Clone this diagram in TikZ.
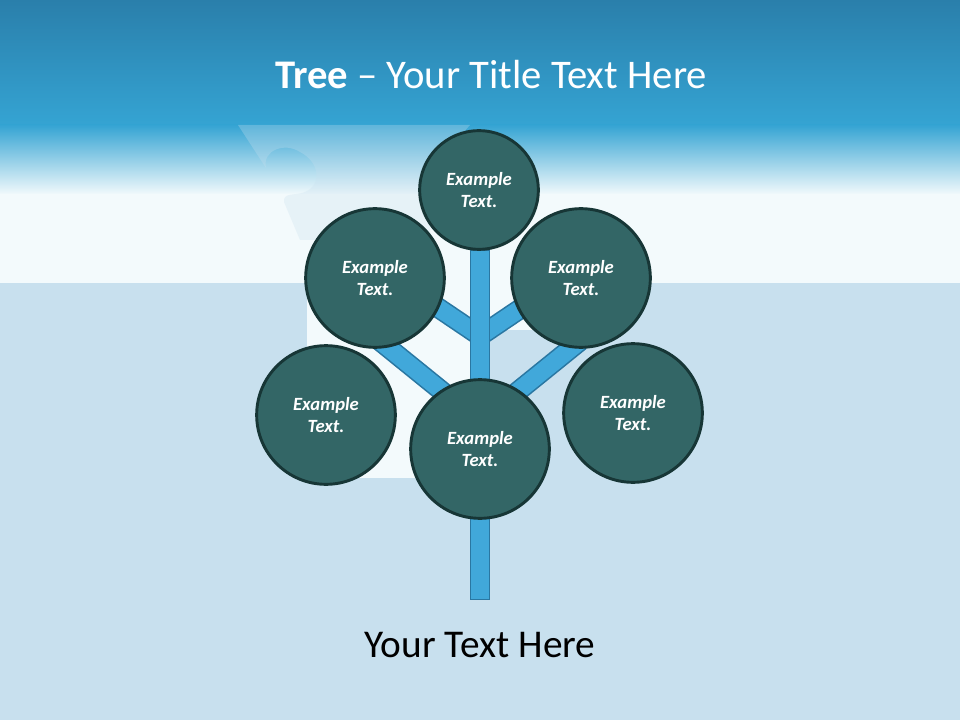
\documentclass[tikz,border=0pt]{standalone}
\usepackage{fontspec}
\setmainfont{Carlito}
\usetikzlibrary{positioning}

\definecolor{bandtop}{HTML}{2A7FAB}
\definecolor{bandlow}{HTML}{35A4D3}
\definecolor{paper}{HTML}{F3FAFC}
\definecolor{puzzle}{HTML}{C8E0EE}
\definecolor{leaffill}{HTML}{336666}
\definecolor{leafedge}{HTML}{173636}
\definecolor{trunkfill}{HTML}{41A8DA}
\definecolor{trunkedge}{HTML}{2A77A2}

\tikzset{
  leaf/.style={circle, draw=leafedge, line width=2.2pt, fill=leaffill,
    minimum size=104pt, inner sep=0pt, text=white, align=center,
    font=\fontsize{14}{17}\selectfont\bfseries\itshape},
  topleaf/.style={leaf, minimum size=89pt},
  branch/.style={draw=trunkedge, line width=1.2pt, double=trunkfill,
    double distance=13pt}
}

\begin{document}
\begin{tikzpicture}[x=0.75pt, y=-0.75pt]
    \useasboundingbox (0,0) rectangle (960,720);

    % background
    \shade[top color=bandtop, bottom color=bandlow] (0,0) rectangle (960,126);
    \shade[top color=bandlow, bottom color=paper] (0,125) rectangle (960,195);
    \fill[paper] (0,194) rectangle (960,284);
    \fill[puzzle] (0,283) rectangle (960,720);
    \fill[paper] (307,283) rectangle (470,478);
    \fill[paper] (469,283) rectangle (545,330);

    % loose piece
    \fill[puzzle, opacity=0.3] (238,125) -- (266,168)
        .. controls (262,150) and (285,142) .. (300,152)
        .. controls (320,162) and (322,185) .. (305,192)
        .. controls (295,196) and (283,192) .. (284,202)
        -- (300,240) -- (430,240) -- (430,170) -- (470,125) -- cycle;

    % title
    \node[text=white, font=\fontsize{30.5}{36}\selectfont] (title) at (491,75)
        {\textbf{Tree} \textendash\ Your Title Text Here};

    % branches
    \coordinate (forkUL) at (480,336);
    \coordinate (forkUR) at (480,336);
    \coordinate (forkLL) at (480,422);
    \coordinate (forkLR) at (480,422);
    \coordinate (tipUL) at (400,282);
    \coordinate (tipUR) at (560,282);
    \coordinate (tipLL) at (380,341);
    \coordinate (tipLR) at (580,341);
    \draw[branch] (forkUL) -- (tipUL);
    \draw[branch] (forkUR) -- (tipUR);
    \draw[branch] (forkLL) -- (tipLL);
    \draw[branch] (forkLR) -- (tipLR);

    % trunk
    \node[draw=trunkedge, line width=1.2pt, fill=trunkfill, inner sep=0pt,
        minimum width=14pt, minimum height=262pt] (trunk) at (480,425) {};

    % leaves
    \node[topleaf] (top) at (479,190) {Example\\Text.};
    \node[leaf] (ul) at (375,278) {Example\\Text.};
    \node[leaf] (ur) at (581,278) {Example\\Text.};
    \node[leaf] (ml) at (326,415) {Example\\Text.};
    \node[leaf] (mr) at (633,413) {Example\\Text.};
    \node[leaf] (root) at (480,449) {Example\\Text.};

    % caption
    \node[font=\fontsize{29.5}{35}\selectfont] (caption) at (480,645) {Your Text Here};
\end{tikzpicture}
\end{document}
